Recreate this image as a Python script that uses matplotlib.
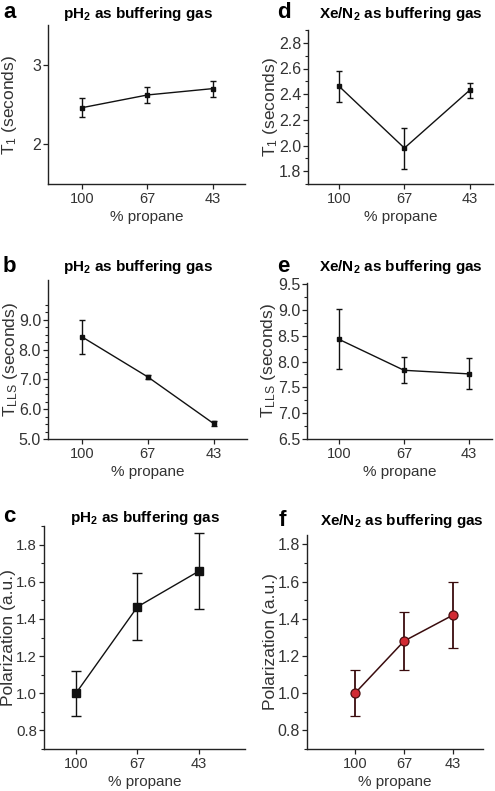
import matplotlib
matplotlib.use("Agg")
import matplotlib.pyplot as plt
from matplotlib.ticker import FixedLocator

plt.rcParams['font.family'] = ['Liberation Sans', 'DejaVu Sans']
plt.rcParams['mathtext.fontset'] = 'custom'
plt.rcParams['mathtext.rm'] = 'Liberation Sans'
plt.rcParams['mathtext.it'] = 'Liberation Sans:italic'
plt.rcParams['mathtext.bf'] = 'Liberation Sans:bold'

categories = ["100", "67", "43"]

# panel a: pH2, T1
a_vals = [2.46, 2.62, 2.70]
a_err = [0.12, 0.10, 0.10]
# panel b: pH2, TLLS
b_vals = [8.42, 7.08, 5.52]
b_err = [0.58, 0.07, 0.08]
# panel c: pH2, polarization
c_vals = [1.00, 1.465, 1.657]
c_err = [0.122, 0.180, 0.205]
# panel d: Xe/N2, T1
d_vals = [2.46, 1.98, 2.43]
d_err = [0.12, 0.16, 0.06]
# panel e: Xe/N2, TLLS
e_vals = [8.43, 7.83, 7.76]
e_err = [0.58, 0.25, 0.30]
# panel f: Xe/N2, polarization
f_vals = [1.00, 1.28, 1.42]
f_err = [0.123, 0.157, 0.175]

W, H = 495, 791
fig = plt.figure(figsize=(W / 100, H / 100), dpi=100)

def add_ax(l, r, t, b):
    return fig.add_axes([l / W, 1 - b / H, (r - l) / W, (b - t) / H])

title_ph2 = r"pH$_\mathbf{2}$ as buffering gas"
title_xe = r"Xe/N$_\mathbf{2}$ as buffering gas"

panels = [
    ("a", (48, 245, 25, 184), a_vals, a_err, (-0.52, 2.49), (1.5, 3.5), [2, 3], None,
     r"T$_1$ (seconds)", 10, title_ph2, 138, 14, 3, 13, "sq_small", "%g", 11.5),
    ("d", (308, 493, 30, 184), d_vals, d_err, (-0.48, 2.36), (1.7, 2.9), [1.8, 2.0, 2.2, 2.4, 2.6, 2.8],
     [1.7, 1.9, 2.1, 2.3, 2.5, 2.7, 2.9], r"T$_1$ (seconds)", 271, title_xe, 401, 14, 277, 13, "sq_small", "%.1f", 11.5),
    ("b", (48, 247, 280, 439), b_vals, b_err, (-0.52, 2.51), (5.0, 10.33), [5, 6, 7, 8, 9],
     [5.25, 5.5, 5.75, 6.25, 6.5, 6.75, 7.25, 7.5, 7.75, 8.25, 8.5, 8.75, 9.25, 9.5],
     r"T$_\mathrm{LLS}$ (seconds)", 11, title_ph2, 138, 267, 3, 266, "sq_small", "%.1f", 11.5),
    ("e", (307, 492, 283, 439), e_vals, e_err, (-0.49, 2.35), (6.5, 9.52), [6.5, 7.0, 7.5, 8.0, 8.5, 9.0, 9.5],
     [6.75, 7.25, 7.75, 8.25, 8.75, 9.25], r"T$_\mathrm{LLS}$ (seconds)", 269, title_xe, 401, 267, 277, 266, "sq_small", "%.1f", 11.5),
    ("c", (44, 245, 526, 749), c_vals, c_err, (-0.52, 2.75), (0.7, 1.9), [0.8, 1.0, 1.2, 1.4, 1.6, 1.8],
     [0.7, 0.9, 1.1, 1.3, 1.5, 1.7, 1.9], "Polarization (a.u.)", 9, title_ph2, 145, 518, 3, 517, "sq_big", "%.1f", 10.8),
    ("f", (307, 483, 535, 749), f_vals, f_err, (-0.98, 2.61), (0.7, 1.85), [0.8, 1.0, 1.2, 1.4, 1.6, 1.8],
     [0.7, 0.9, 1.1, 1.3, 1.5, 1.7], "Polarization (a.u.)", 270, title_xe, 402, 521, 279, 520, "circle", "%.1f", 11.5),
]

tick_color = "#333333"
for (letter, box, vals, err, xlim, ylim, yticks, minor, ylabel, ylab_x, title, tx, ty, lx, ly, style, fmt, ysize) in panels:
    ax = add_ax(*box)
    x = list(range(len(categories)))
    if style == "circle":
        lc = "#3a0c0e"
        ax.errorbar(x, vals, yerr=err, color=lc, lw=1.1, elinewidth=1.3, capsize=3.5, capthick=1.3,
                    marker="o", ms=6.5, mfc="#d12a33", mec="#4a0e10", mew=0.9)
    elif style == "sq_big":
        ax.errorbar(x, vals, yerr=err, color="#111111", lw=1.0, elinewidth=1.0, capsize=3.5, capthick=1.0,
                    marker="s", ms=6, mfc="#111111", mec="#111111")
    else:
        ax.errorbar(x, vals, yerr=err, color="#111111", lw=1.0, elinewidth=1.0, capsize=2.5, capthick=1.0,
                    marker="s", ms=3.5, mfc="#111111", mec="#111111")
    ax.set_xlim(*xlim)
    ax.set_ylim(*ylim)
    ax.set_xticks(x)
    ax.set_xticklabels(categories)
    ax.set_yticks(yticks)
    ax.set_yticklabels([fmt % v for v in yticks])
    if minor:
        ax.yaxis.set_minor_locator(FixedLocator(minor))
    for s in ("top", "right"):
        ax.spines[s].set_visible(False)
    for s in ("left", "bottom"):
        ax.spines[s].set_linewidth(1.0)
        ax.spines[s].set_color("#222222")
    ax.tick_params(axis="both", which="major", direction="out", length=3.5, width=0.9,
                   colors="#222222", labelcolor=tick_color, pad=2)
    ax.tick_params(axis="x", labelsize=10.5)
    ax.tick_params(axis="y", labelsize=ysize, pad=1.5)
    ax.tick_params(axis="y", which="minor", direction="out", length=2, width=0.8, colors="#222222")
    ax.set_xlabel("% propane", fontsize=11, color=tick_color, labelpad=3)
    ax.set_ylabel(ylabel, fontsize=12.5, color=tick_color, va="center")
    l, r, t, b = box
    ax.yaxis.set_label_coords((ylab_x - l) / (r - l), 0.5)
    fig.text(tx / W, 1 - ty / H, title, ha="center", va="center", fontsize=11, fontweight="bold")
    fig.text(lx / W, 1 - ly / H, letter, ha="left", va="center", fontsize=16, fontweight="bold")

fig.savefig("out.png", dpi=100)
